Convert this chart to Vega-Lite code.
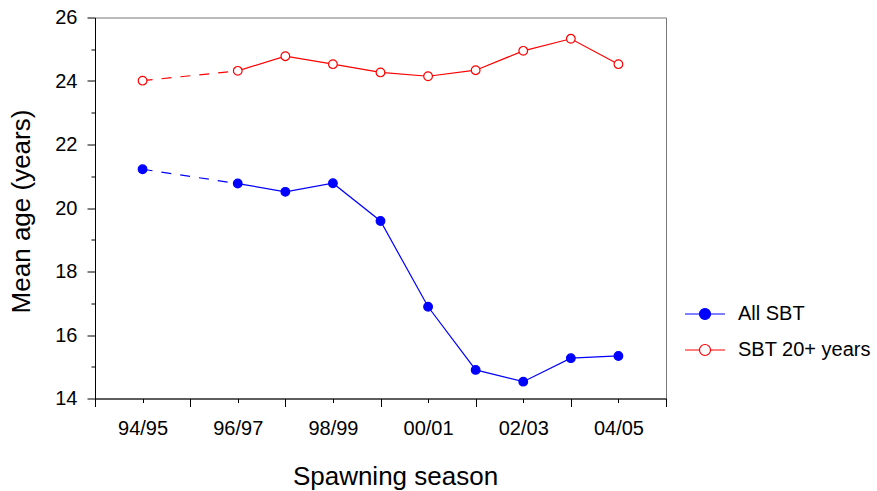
{
  "$schema": "https://vega.github.io/schema/vega-lite/v6.json",
  "autosize": "none",
  "width": 571,
  "height": 381,
  "padding": {"left": 95, "top": 17.5, "right": 211, "bottom": 92.5},
  "background": "white",
  "config": {
    "font": "Liberation Sans",
    "view": {"stroke": "#777777", "strokeWidth": 1},
    "axis": {
      "domainColor": "black",
      "tickColor": "black",
      "labelColor": "black",
      "titleColor": "black",
      "grid": false,
      "labelFont": "Liberation Sans",
      "titleFont": "Liberation Sans",
      "labelFontSize": 20,
      "titleFontSize": 26,
      "titleFontWeight": "normal"
    },
    "legend": {
      "labelFont": "Liberation Sans",
      "labelFontSize": 20,
      "labelColor": "black"
    }
  },
  "data": {
    "values": [
      {"season": 1994, "series": "All SBT", "age": 21.22},
      {"season": 1996, "series": "All SBT", "age": 20.77},
      {"season": 1997, "series": "All SBT", "age": 20.51},
      {"season": 1998, "series": "All SBT", "age": 20.78},
      {"season": 1999, "series": "All SBT", "age": 19.59},
      {"season": 2000, "series": "All SBT", "age": 16.89},
      {"season": 2001, "series": "All SBT", "age": 14.9},
      {"season": 2002, "series": "All SBT", "age": 14.53},
      {"season": 2003, "series": "All SBT", "age": 15.27},
      {"season": 2004, "series": "All SBT", "age": 15.34},
      {"season": 1994, "series": "SBT 20+ years", "age": 24.01},
      {"season": 1996, "series": "SBT 20+ years", "age": 24.32},
      {"season": 1997, "series": "SBT 20+ years", "age": 24.78},
      {"season": 1998, "series": "SBT 20+ years", "age": 24.53},
      {"season": 1999, "series": "SBT 20+ years", "age": 24.27},
      {"season": 2000, "series": "SBT 20+ years", "age": 24.15},
      {"season": 2001, "series": "SBT 20+ years", "age": 24.34},
      {"season": 2002, "series": "SBT 20+ years", "age": 24.95},
      {"season": 2003, "series": "SBT 20+ years", "age": 25.33},
      {"season": 2004, "series": "SBT 20+ years", "age": 24.53}
    ]
  },
  "encoding": {
    "x": {
      "field": "season",
      "type": "quantitative",
      "scale": {"domain": [1993, 2005], "nice": false, "zero": false},
      "axis": {
        "title": "Spawning season",
        "values": [1993, 1994, 1995, 1996, 1997, 1998, 1999, 2000, 2001, 2002, 2003, 2004, 2005],
        "labelExpr": "datum.value % 2 == 0 ? slice('0' + (datum.value % 100), -2) + '/' + slice('0' + ((datum.value + 1) % 100), -2) : ''",
        "tickSize": {"condition": {"test": "datum.value % 2 == 1", "value": 8}, "value": 4},
        "labelPadding": 16,
        "labelFlush": false,
        "labelOverlap": false,
        "titleAlign": "center",
        "titleBaseline": "alphabetic",
        "titleX": 300,
        "titleY": 86
      }
    },
    "y": {
      "field": "age",
      "type": "quantitative",
      "scale": {"domain": [14, 26], "nice": false, "zero": false},
      "axis": {
        "title": "Mean age (years)",
        "values": [14, 15, 16, 17, 18, 19, 20, 21, 22, 23, 24, 25, 26],
        "labelExpr": "datum.value % 2 == 0 ? datum.label : ''",
        "tickSize": {"condition": {"test": "datum.value % 2 == 0", "value": 8}, "value": 4},
        "labelPadding": 10,
        "labelFlush": false,
        "labelOverlap": false,
        "titleAngle": -90,
        "titleAlign": "center",
        "titleBaseline": "alphabetic",
        "titleX": -66,
        "titleY": 193.5
      }
    },
    "stroke": {
      "field": "series",
      "type": "nominal",
      "scale": {"domain": ["All SBT", "SBT 20+ years"], "range": ["#0000ff", "#ff0000"]},
      "legend": {
        "title": null,
        "orient": "none",
        "legendX": 594,
        "legendY": 280.5,
        "padding": 0,
        "symbolType": "M-1.333,0L-0.367,0M0.367,0L1.333,0M-0.367,0A0.367,0.367,0,1,0,0.367,0A0.367,0.367,0,1,0,-0.367,0Z",
        "symbolSize": 900,
        "symbolStrokeWidth": 1.2,
        "labelOffset": 17,
        "rowPadding": 10
      }
    }
  },
  "layer": [
    {
      "transform": [{"filter": "datum.season <= 1996"}],
      "mark": {"type": "line", "strokeWidth": 1.2, "strokeDash": [10, 9]},
      "encoding": {"detail": {"field": "series"}}
    },
    {
      "transform": [{"filter": "datum.season >= 1996"}],
      "mark": {"type": "line", "strokeWidth": 1.2},
      "encoding": {"detail": {"field": "series"}}
    },
    {
      "mark": {"type": "point", "shape": "circle", "filled": true, "size": 75, "strokeWidth": 1.2, "opacity": 1},
      "encoding": {
        "fill": {
          "field": "series",
          "type": "nominal",
          "scale": {"domain": ["All SBT", "SBT 20+ years"], "range": ["#0000ff", "#ffffff"]},
          "legend": {
            "title": null,
            "orient": "none",
            "legendX": 594,
            "legendY": 280.5,
            "padding": 0,
            "symbolType": "M-1.333,0L-0.367,0M0.367,0L1.333,0M-0.367,0A0.367,0.367,0,1,0,0.367,0A0.367,0.367,0,1,0,-0.367,0Z",
            "symbolSize": 900,
            "symbolStrokeWidth": 1.2,
            "labelOffset": 17,
            "rowPadding": 10
          }
        }
      }
    }
  ]
}
